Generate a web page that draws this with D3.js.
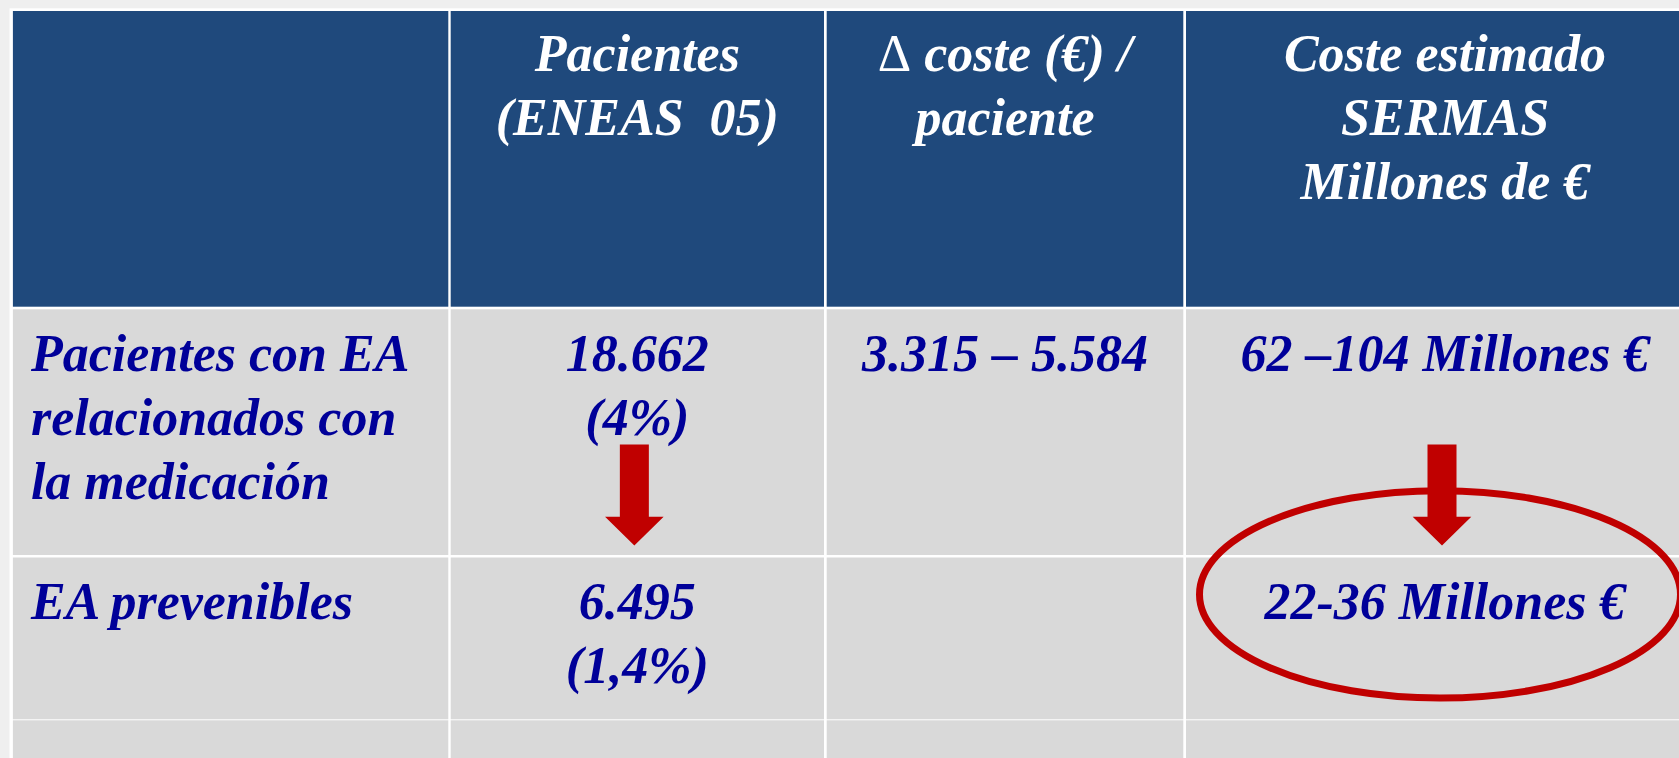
<!DOCTYPE html>
<html>
<head>
<meta charset="utf-8">
<script src="https://cdn.jsdelivr.net/npm/d3@7"></script>
<style>
  html, body { margin: 0; padding: 0; background: #eeeeee; overflow: hidden; }
  svg { display: block; }
  text { font-family: "Liberation Serif", "Times New Roman", serif; font-weight: bold; font-style: italic; white-space: pre; }
</style>
</head>
<body>
<svg id="chart" width="1679" height="758"></svg>
<script>
// ---- data ----
const headers = [
  [],
  ["Pacientes", "(ENEAS  05)"],
  ["\u0394 coste (\u20AC) /", "paciente"],
  ["Coste estimado", "SERMAS", "Millones de \u20AC"]
];
const rowLabels = [
  ["Pacientes con EA", "relacionados con", "la medicaci\u00F3n"],
  ["EA prevenibles"],
  []
];
const pacientes = [["18.662", "(4%)"], ["6.495", "(1,4%)"], []];
const costePorPaciente = [["3.315 \u2013 5.584"], [], []];
const costeEstimado = [["62 \u2013104 Millones \u20AC"], ["22-36 Millones \u20AC"], []];
const arrowColumns = [1, 3];      // columns with a "reduction" arrow
const highlightCell = {row: 1, col: 3};   // body row index (0 = first body row)

// ---- layout ----
const W = 1679, H = 758;
const colStart = [12.9, 450.7, 826.7, 1186];
const colEnd   = [448.3, 824, 1183.3, 1704];
const rowStart = [11, 309.3, 557.5, 720.3];   // header, row1, row2, row3
const rowEnd   = [306.7, 555, 719.3, 800];
const headerFill = "#1F497C", bodyFill = "#D9D9D9", textBlue = "#000099", red = "#C00000";
const fontSize = 52, linePitch = 64;

const svg = d3.select("#chart");
const xs = d3.scaleOrdinal().domain(d3.range(4)).range(colStart);
const xe = d3.scaleOrdinal().domain(d3.range(4)).range(colEnd);
const ys = d3.scaleOrdinal().domain(d3.range(4)).range(rowStart);
const ye = d3.scaleOrdinal().domain(d3.range(4)).range(rowEnd);
const xc = c => (xs(c) + xe(c)) / 2;

svg.append("rect").attr("width", W).attr("height", H).attr("fill", "#efefef");
// table white frame (grid lines)
svg.append("rect").attr("x", 9.5).attr("y", 8.3).attr("width", W).attr("height", H).attr("fill", "#ffffff");

// cells
const cells = [];
for (let r = 0; r < 4; r++) for (let c = 0; c < 4; c++) cells.push({r, c});
svg.append("g").selectAll("rect").data(cells).join("rect")
  .attr("x", d => xs(d.c)).attr("y", d => ys(d.r))
  .attr("width", d => xe(d.c) - xs(d.c)).attr("height", d => ye(d.r) - ys(d.r))
  .attr("fill", d => d.r === 0 ? headerFill : bodyFill);

// header texts
const headerBase = 71;
const hg = svg.append("g");
headers.forEach((lines, c) => {
  hg.append("g").selectAll("text").data(lines).join("text")
    .attr("x", xc(c)).attr("y", (d, i) => headerBase + i * linePitch)
    .attr("text-anchor", "middle").attr("font-size", fontSize).attr("fill", "#ffffff")
    .each(function(d) {
      const t = d3.select(this);
      if (d.startsWith("\u0394")) {
        t.append("tspan").attr("font-style", "normal").attr("font-weight", "normal").text("\u0394");
        t.append("tspan").text(d.slice(1));
      } else t.text(d);
    });
});

// body texts
const bodyBase = [371, 619, 780];
const bg = svg.append("g");
function cellText(linesArr, col, anchor) {
  linesArr.forEach((lines, r) => {
    bg.append("g").selectAll("text").data(lines).join("text")
      .attr("x", anchor === "start" ? xs(col) + 18 : xc(col))
      .attr("y", (d, i) => bodyBase[r] + i * linePitch)
      .attr("text-anchor", anchor).attr("font-size", fontSize).attr("fill", textBlue)
      .text(d => d);
  });
}
cellText(rowLabels, 0, "start");
cellText(pacientes, 1, "middle");
cellText(costePorPaciente, 2, "middle");
cellText(costeEstimado, 3, "middle");

// arrows
const shaftTop = 444.5, headTop = 516.7, tip = 545.5, shaftHalf = 14.5, headHalf = 29.3;
svg.append("g").selectAll("path").data(arrowColumns).join("path")
  .attr("d", c => {
    const cx = xc(c) - 3;
    return `M${cx - shaftHalf},${shaftTop} L${cx + shaftHalf},${shaftTop} L${cx + shaftHalf},${headTop}` +
           ` L${cx + headHalf},${headTop} L${cx},${tip} L${cx - headHalf},${headTop} L${cx - shaftHalf},${headTop} Z`;
  })
  .attr("fill", red);

// highlight ellipse around the body cell (shifted upward over the row border)
const hr = highlightCell.row + 1;
svg.append("ellipse")
  .attr("cx", xc(highlightCell.col) - 5)
  .attr("cy", (ys(hr) + ye(hr)) / 2 - 44)
  .attr("rx", 240.5).attr("ry", 103.7)
  .attr("fill", "none").attr("stroke", red).attr("stroke-width", 7);
</script>
</body>
</html>
